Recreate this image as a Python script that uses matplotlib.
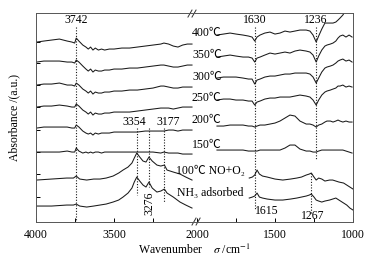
import numpy as np
import matplotlib
matplotlib.use("Agg")
from matplotlib import pyplot as plt

plt.rcParams["font.family"] = ["Liberation Serif", "Noto Sans CJK SC", "DejaVu Sans"]
plt.rcParams["mathtext.fontset"] = "stix"

# wavenumber grids (cm^-1)
wn_left = [3995, 3950, 3900, 3850, 3800, 3770, 3752, 3742, 3725, 3700, 3680,
           3665, 3650, 3635, 3620, 3600, 3580, 3560, 3530, 3500, 3450, 3400,
           3350, 3300, 3250, 3200, 3180, 3150, 3120, 3090, 3060, 3030, 3000]
wn_right = [1872, 1830, 1788, 1750, 1705, 1670, 1647, 1630, 1615, 1596, 1565,
            1532, 1500, 1468, 1436, 1404, 1372, 1340, 1300, 1276, 1256, 1236,
            1220, 1200, 1180, 1167, 1145, 1128, 1110, 1096, 1083, 1065, 1045,
            1025, 1006]
wn_left_low = [3996, 3900, 3803, 3760, 3742, 3720, 3675, 3630, 3590, 3550, 3506,
               3470, 3442, 3410, 3385, 3370, 3354, 3335, 3314, 3295, 3276, 3255,
               3225, 3200, 3177, 3160, 3120, 3077, 3040, 3000]
wn_right_low = [1665, 1645, 1630, 1615, 1600, 1580, 1550, 1500, 1450, 1400, 1360,
                1330, 1300, 1280, 1267, 1250, 1236, 1220, 1200, 1180, 1150, 1130,
                1110, 1090, 1060, 1040, 1020, 1000]

# stacked absorbance (a.u., offset traces)
a400_l = [180, 181, 182, 183, 181, 180, 179, 184, 181, 177, 175, 173, 175, 172, 174, 172, 173,
          172, 173, 173, 174, 174, 175, 176, 177, 178, 179, 178, 176, 175, 177, 178, 178]
a400_r = [187, 188, 189, 188, 187, 186, 185, 181, 185, 187, 189, 190, 188, 189, 191, 190, 191,
          192, 192, 191, 187, 180, 186, 193, 199, 199, 199, 199, 200, 202, 204, 207, 212, 220, 228]
a350_l = [160, 161, 161, 161, 160, 160, 159, 162, 160, 156, 153, 151, 153, 150, 152, 151, 151,
          152, 152, 153, 153, 154, 154, 155, 156, 157, 157, 156, 155, 155, 156, 157, 157]
a350_r = [165, 166, 167, 166, 165, 165, 164, 160, 164, 165, 167, 169, 168, 169, 170, 169, 171,
          172, 171, 170, 167, 160, 166, 172, 176, 177, 178, 179, 181, 184, 186, 187, 185, 187, 185]
a300_l = [137, 138, 138, 139, 137, 137, 136, 139, 137, 133, 131, 129, 131, 128, 130, 129, 129,
          130, 130, 131, 131, 132, 132, 133, 134, 136, 136, 135, 134, 134, 135, 135, 135]
a300_r = [144, 145, 145, 145, 144, 143, 143, 138, 142, 143, 145, 146, 146, 147, 148, 148, 149,
          149, 149, 148, 145, 139, 144, 150, 154, 155, 156, 157, 159, 161, 162, 163, 161, 162, 160]
a250_l = [115, 116, 116, 117, 116, 115, 115, 118, 116, 112, 110, 108, 110, 107, 109, 108, 108,
          109, 109, 110, 110, 110, 111, 112, 113, 114, 114, 114, 113, 114, 115, 115, 115]
a250_r = [122, 123, 123, 122, 122, 121, 121, 117, 120, 121, 123, 124, 124, 125, 125, 125, 126,
          127, 126, 125, 122, 117, 122, 127, 130, 131, 132, 133, 134, 136, 136, 137, 135, 136, 135]
a200_l = [94, 95, 95, 95, 95, 94, 94, 97, 95, 91, 89, 88, 89, 87, 89, 88, 89,
          89, 89, 90, 90, 90, 90, 91, 91, 91, 91, 92, 92, 91, 92, 92, 92]
a200_r = [96, 96, 97, 97, 97, 96, 96, 95, 96, 97, 97, 98, 99, 101, 104, 107, 106,
          101, 98, 98, 97, 95, 97, 98, 100, 101, 101, 100, 101, 102, 101, 100, 101, 100, 100]
a150_l = [70, 70, 70, 70, 71, 70, 70, 74, 71, 69, 70, 69, 70, 69, 70, 70, 69,
          70, 70, 70, 70, 70, 70, 70, 70, 69, 70, 69, 69, 69, 68, 68, 68]
a150_r = [72, 72, 72, 72, 72, 71, 71, 71, 71, 72, 72, 72, 72, 72, 74, 77, 77,
          73, 71, 71, 70, 70, 71, 72, 72, 72, 72, 72, 72, 72, 72, 72, 71, 70, 69]
a100_l = [42, 43, 44, 44, 46, 43, 42, 43, 43, 44, 46, 49, 52, 55, 59, 64, 69, 65, 61, 60,
          65, 61, 57, 56, 57, 52, 50, 48, 45, 42]
a100_r = [44, 45, 47, 52, 48, 46, 45, 43, 42, 43, 44, 45, 47, 48, 49, 45, 42, 44, 43, 41,
          42, 42, 41, 40, 39, 37, 35, 33]
anh3_l = [16, 16, 17, 17, 18, 16, 15, 16, 17, 18, 20, 22, 25, 29, 34, 40, 45, 41, 37, 35,
          40, 34, 30, 31, 33, 29, 25, 20, 17, 14]
anh3_r = [24, 25, 26, 29, 25, 24, 23, 22, 22, 23, 24, 25, 26, 27, 28, 25, 22, 21, 20, 21,
          22, 23, 24, 22, 19, 17, 14, 12]

labels = ["400℃", "350℃", "300℃", "250℃", "200℃", "150℃", "100℃ NO+O₂", "NH₃ adsorbed"]
label_y = [189, 167, 145, 124, 102, 77, 51, 29]
label_wn = [3000, 3000, 3000, 3000, 3000, 3000, 3103, 3096]

GAP = 32  # width of the axis break, in units of cm^-1


def to_u(w):
    # 4000-3000 on the left, 2000-1000 on the right of the break
    w = np.asarray(w, dtype=float)
    return np.where(w >= 2500, 4000 - w, 1000 + GAP + 2000 - w)


fig = plt.figure(figsize=(3.75, 2.6), dpi=100)
ax = fig.add_axes([0.096, 0.146, 0.8453, 0.8038])

traces = [
    (wn_left, a400_l, wn_right, a400_r),
    (wn_left, a350_l, wn_right, a350_r),
    (wn_left, a300_l, wn_right, a300_r),
    (wn_left, a250_l, wn_right, a250_r),
    (wn_left, a200_l, wn_right, a200_r),
    (wn_left, a150_l, wn_right, a150_r),
    (wn_left_low, a100_l, wn_right_low, a100_r),
    (wn_left_low, anh3_l, wn_right_low, anh3_r),
]
for wl, al, wr, ar in traces:
    ax.plot(to_u(wl), al, color="#1a1a1a", lw=0.75)
    ax.plot(to_u(wr), ar, color="#1a1a1a", lw=0.75)

for lab, y, w in zip(labels, label_y, label_wn):
    ax.text(to_u(w), y, lab, fontsize=8.5, ha="left", va="center")

# dotted guide lines: (wavenumber, from, to)
guides = [(3742, 195, 0), (1630, 195, 13), (1236, 195, 62), (1267, 49, 9),
          (3354, 94, 27), (3276, 94, 35), (3177, 94, 20)]
for w, y0, y1 in guides:
    ax.plot([to_u(w)] * 2, [y0, y1], color="#1a1a1a", lw=0.8, ls=(0, (1, 1.5)))

ax.text(to_u(3742), 202, "3742", fontsize=8.5, ha="center", va="center")
ax.text(to_u(1630), 202, "1630", fontsize=8.5, ha="center", va="center")
ax.text(to_u(1236), 202, "1236", fontsize=8.5, ha="center", va="center")
ax.text(to_u(3370), 100, "3354", fontsize=8.5, ha="center", va="center")
ax.text(to_u(3150), 100, "3177", fontsize=8.5, ha="center", va="center")
ax.text(to_u(3270), 19, "3276", fontsize=8.5, ha="center", va="center", rotation=90)
ax.text(to_u(1551), 11, "1615", fontsize=8.5, ha="center", va="center")
ax.text(to_u(1256), 6, "1267", fontsize=8.5, ha="center", va="center")

# break marks
for x0 in (974, 1000):
    ax.plot([x0, x0 + 26], [205, 212], color="#333333", lw=0.7, clip_on=False)
for x0 in (1000, 1026):
    ax.plot([x0, x0 + 26], [-3, 4], color="#333333", lw=0.7, clip_on=False)

ax.set_xlim(0, 2000 + GAP)
ax.set_ylim(0, 209)
ax.set_xticks(to_u([4000, 3500, 2000, 1500, 1000]))
ax.set_xticklabels(["4000", "3500", "2000", "1500", "1000"])
ax.set_xticks(to_u([3750, 3250, 1750, 1250]), minor=True)
ax.set_yticks([25, 48, 70, 92, 115, 137, 159, 180])
ax.set_yticklabels([])
ax.tick_params(direction="in", length=3, width=0.7, labelsize=8.5, pad=5)
ax.tick_params(which="minor", direction="in", length=3, width=0.7)
for sp in ax.spines.values():
    sp.set_linewidth(0.7)
    sp.set_color("#555555")

ax.set_xlabel("Wavenumber    $\\sigma$ /cm$^{-1}$", fontsize=8.5, labelpad=1)
ax.set_ylabel("Absorbance /(a.u.)", fontsize=8.5, labelpad=6)

fig.savefig("out.png", dpi=100)
